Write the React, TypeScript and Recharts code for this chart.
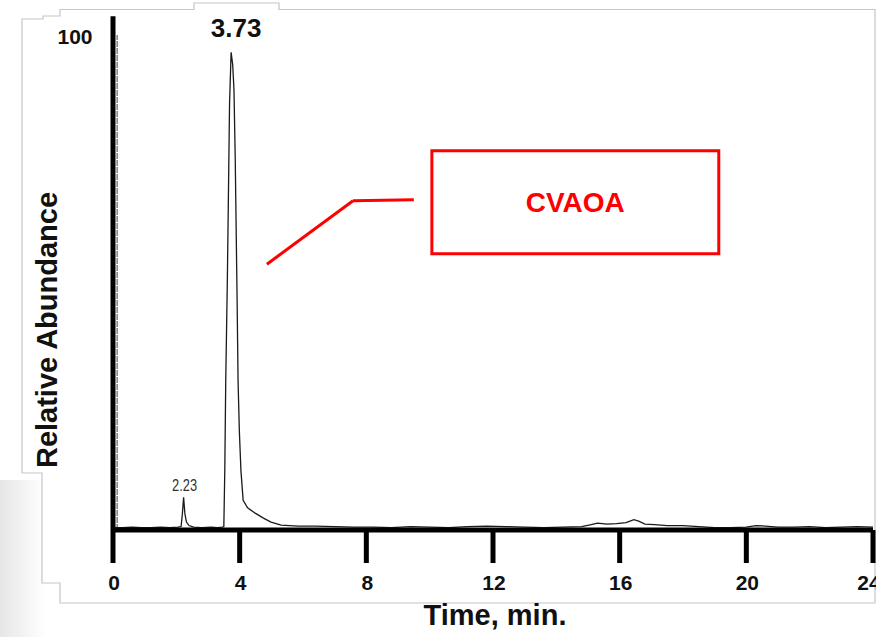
import React from "react";
import {
  LineChart,
  Line,
  XAxis,
  YAxis,
  ReferenceArea,
  ReferenceLine,
  ReferenceDot,
} from "recharts";

// retention time (min) and relative abundance (%) of the trace
const times = [
  0, 0.3, 0.6, 0.9, 1.2, 1.5, 1.8, 2.05, 2.15, 2.19, 2.23, 2.27, 2.32, 2.4, 2.55,
  2.8, 3.1, 3.3, 3.45, 3.5, 3.53, 3.56, 3.61, 3.64, 3.68, 3.73, 3.78, 3.82, 3.86,
  3.92, 3.95, 3.99, 4.04, 4.11, 4.25, 4.49, 4.75, 4.99, 5.31, 5.85, 6.4, 7.0, 7.6,
  8.2, 8.8, 9.4, 10.0, 10.6, 11.2, 11.8, 12.4, 13.0, 13.6, 14.2, 14.8, 15.1, 15.3,
  15.6, 15.9, 16.2, 16.45, 16.6, 16.8, 17.1, 17.5, 18.0, 18.5, 19.0, 19.5, 20.0,
  20.3, 20.6, 21.0, 21.5, 22.0, 22.5, 23.0, 23.5, 24.0,
];
const abundance = [
  0.5, 0.5, 0.6, 0.5, 0.5, 0.6, 0.5, 0.6, 0.7, 3.2, 6.6, 3.3, 1.6, 0.9, 0.6,
  0.5, 0.6, 0.5, 0.6, 0.7, 12, 30, 50, 65, 86, 96.5, 94, 89, 75,
  46, 30, 20, 12, 6, 4.5, 3.4, 2.4, 1.6, 1.0, 0.8, 0.8, 0.7, 0.6,
  0.6, 0.5, 0.7, 0.6, 0.5, 0.7, 0.8, 0.7, 0.6, 0.5, 0.6, 0.7, 1.1, 1.4,
  1.2, 1.3, 1.5, 2.1, 1.8, 1.2, 1.1, 0.9, 0.9, 0.7, 0.5, 0.5, 0.6,
  0.9, 0.8, 0.6, 0.6, 0.7, 0.5, 0.6, 0.7, 0.6,
];
const timeTicks = [0, 4, 8, 12, 16, 20, 24];
const abundanceTicks = [100];
const peakTimes = [2.23, 3.73];

const data = times.map((t, i) => ({ t, a: abundance[i] }));

const FONT = '"Liberation Sans", Arial, Helvetica, sans-serif';
const RED = "#ff0000";

const TimeTick = (props: any) => (
  <text
    x={props.x + 1}
    y={props.y + 17}
    textAnchor="middle"
    dominantBaseline="central"
    fontFamily={FONT}
    fontWeight={700}
    fontSize={21}
    fill="#111"
  >
    {props.payload.value}
  </text>
);

const AbundanceTick = (props: any) => (
  <text
    x={75}
    y={props.y + 1}
    textAnchor="middle"
    dominantBaseline="central"
    fontFamily={FONT}
    fontWeight={700}
    fontSize={21}
    fill="#111"
  >
    {props.payload.value}
  </text>
);

const AbundanceTitle = () => (
  <text
    x={47}
    y={330}
    transform="rotate(-90 47 330)"
    textAnchor="middle"
    dominantBaseline="central"
    fontFamily={FONT}
    fontWeight={700}
    fontSize={29}
    fill="#111"
  >
    Relative Abundance
  </text>
);

function PeakLabel({ viewBox, value }: any) {
  const big = value === "3.73";
  const cx = viewBox.x + (viewBox.width || 0) / 2;
  const cy = viewBox.y + (viewBox.height || 0) / 2;
  return (
    <text
      x={cx + (big ? 5 : 1)}
      y={cy - (big ? 24 : 6)}
      textAnchor="middle"
      dominantBaseline={big ? "central" : "auto"}
      fontFamily={FONT}
      fontWeight={big ? 700 : 400}
      fontSize={big ? 26 : 16}
      fill={big ? "#111" : "#333"}
      textLength={big ? undefined : 25}
      lengthAdjust="spacingAndGlyphs"
    >
      {value}
    </text>
  );
}

function Frame() {
  // light slide frame around the plot
  return (
    <svg
      width={876}
      height={637}
      style={{ position: "absolute", left: 0, top: 0 }}
    >
      <defs>
        <linearGradient id="shade" x1="0" x2="1" y1="0" y2="0">
          <stop offset="0" stopColor="#e6e6e6" />
          <stop offset="1" stopColor="#ffffff" />
        </linearGradient>
      </defs>
      <rect x={0} y={480} width={45} height={157} fill="url(#shade)" />
      <polyline
        fill="none"
        stroke="#c6c6c6"
        strokeWidth={1.2}
        points="22,473 22,19 43,19 43,16 60,16 60,9.5 194,9.5 194,3 279,3 279,9.5 875,9.5 875,603 60,603 60,583 42,583 42,473 22,473"
      />
    </svg>
  );
}

export default function App() {
  return (
    <div style={{ position: "absolute", left: 0, top: 0, width: 876, height: 637, background: "#fff" }}>
      <Frame />
      <div style={{ position: "absolute", left: 0, top: 0 }}>
        <LineChart
          width={876}
          height={637}
          data={data}
          margin={{ top: 35, right: 3, left: 0, bottom: 0 }}
        >
          <XAxis
            dataKey="t"
            type="number"
            domain={[0, 24]}
            ticks={timeTicks}
            allowDataOverflow
            axisLine={{ stroke: "#000", strokeWidth: 5 }}
            tickLine={{ stroke: "#000", strokeWidth: 5 }}
            tickSize={33}
            height={107}
            tick={<TimeTick />}
            label={{
              value: "Time, min.",
              position: "insideBottom",
              offset: 12,
              fontFamily: FONT,
              fontWeight: 700,
              fontSize: 29,
              fill: "#111",
              dx: 2,
            }}
          />
          <YAxis
            type="number"
            domain={[0, 100]}
            ticks={abundanceTicks}
            allowDataOverflow
            width={113}
            axisLine={false}
            tickLine={false}
            tick={<AbundanceTick />}
            label={<AbundanceTitle />}
          />
          {/* vertical axis bar reaching above the 100 level */}
          <ReferenceLine
            segment={[{ x: 0, y: 0 }, { x: 0, y: 103.8 }]}
            stroke="#000"
            strokeWidth={5}
            ifOverflow="visible"
          />
          <ReferenceLine
            segment={[{ x: 0.13, y: 0 }, { x: 0.13, y: 100 }]}
            stroke="#444"
            strokeWidth={1}
            strokeDasharray="6 1"
            ifOverflow="visible"
          />
          <ReferenceArea
            x1={10.07}
            x2={19.13}
            y1={55.8}
            y2={76.6}
            fill="none"
            stroke={RED}
            strokeWidth={3}
            fillOpacity={0}
            strokeOpacity={1}
            label={{
              value: "CVAOA",
              position: "center",
              fill: RED,
              fontFamily: FONT,
              fontWeight: 700,
              fontSize: 28,
            }}
          />
          <ReferenceLine
            segment={[{ x: 4.86, y: 53.7 }, { x: 7.58, y: 66.5 }]}
            stroke={RED}
            strokeWidth={3}
          />
          <ReferenceLine
            segment={[{ x: 7.58, y: 66.5 }, { x: 9.5, y: 66.7 }]}
            stroke={RED}
            strokeWidth={3}
          />
          <Line
            dataKey="a"
            type="linear"
            stroke="#1a1a1a"
            strokeWidth={1.3}
            dot={false}
            activeDot={false}
            isAnimationActive={false}
          />
          {peakTimes.map((pt) => {
            const i = times.indexOf(pt);
            return (
              <ReferenceDot
                key={pt}
                x={pt}
                y={abundance[i]}
                r={0}
                stroke="none"
                fill="none"
                label={<PeakLabel value={pt.toFixed(2)} />}
              />
            );
          })}
        </LineChart>
      </div>
    </div>
  );
}
